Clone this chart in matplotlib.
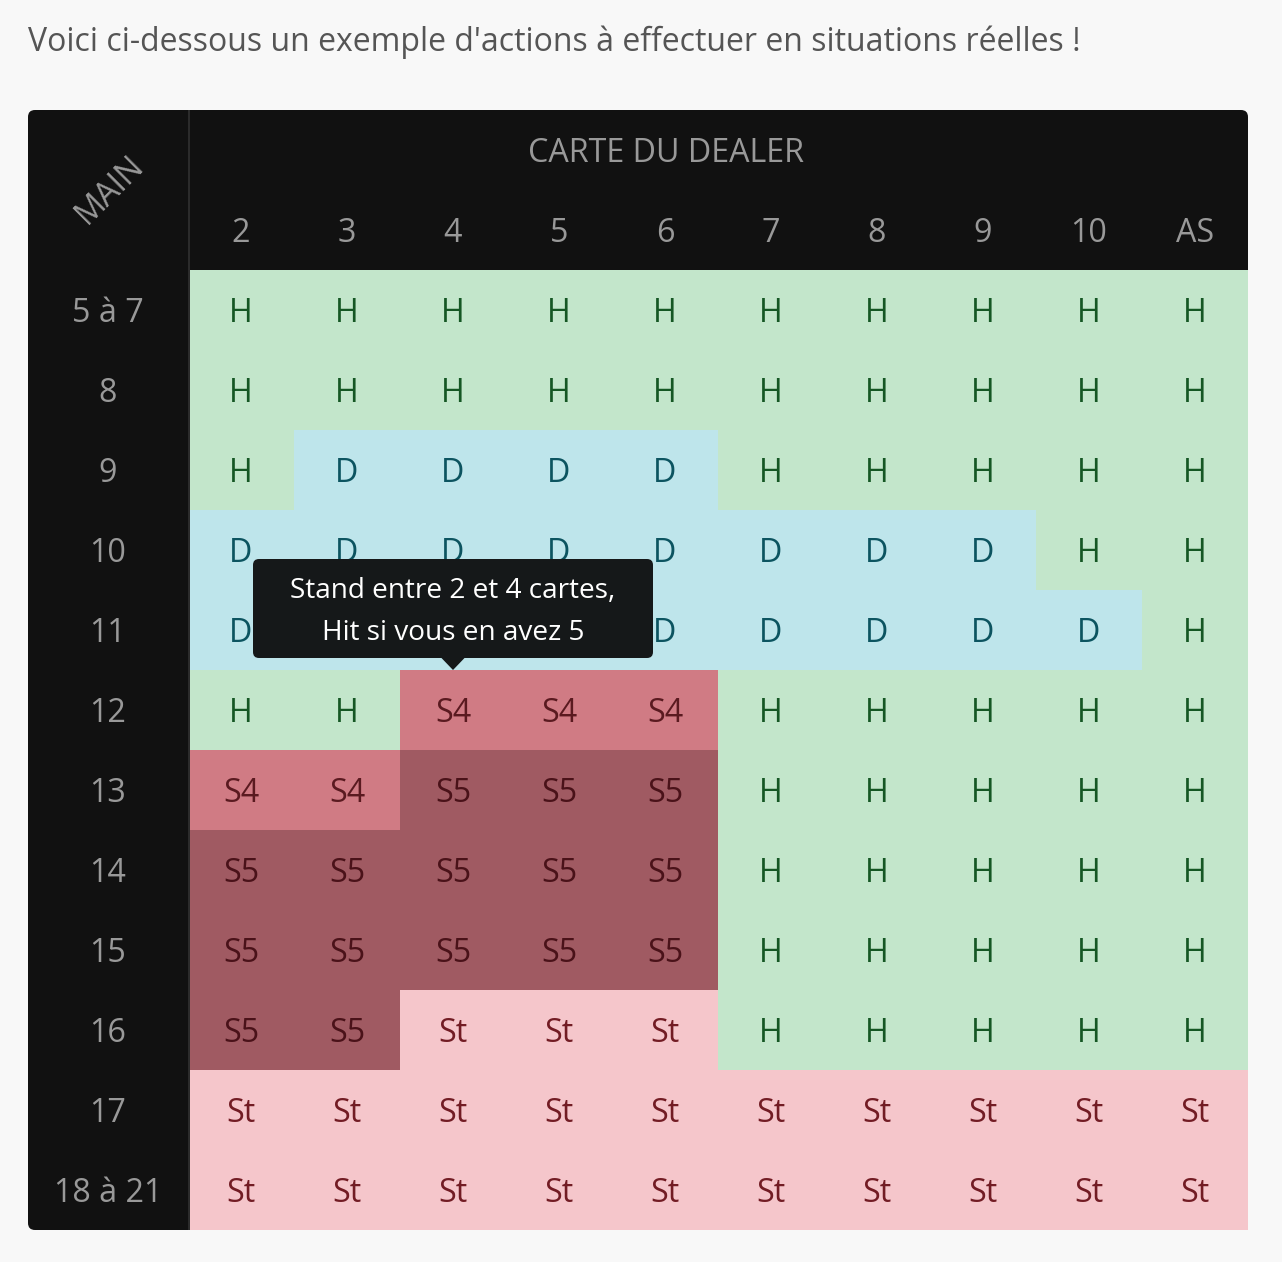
import matplotlib

matplotlib.use("Agg")
import matplotlib.pyplot as plt
import numpy as np
from matplotlib.colors import ListedColormap
from matplotlib.patches import FancyBboxPatch, Polygon, Rectangle

plt.rcParams["font.family"] = ["Open Sans", "DejaVu Sans"]

intro = "Voici ci-dessous un exemple d'actions à effectuer en situations réelles !"
dealer_title = "CARTE DU DEALER"
hand_title = "MAIN"
dealer_cards = ["2", "3", "4", "5", "6", "7", "8", "9", "10", "AS"]
hands = ["5 à 7", "8", "9", "10", "11", "12", "13", "14", "15", "16", "17", "18 à 21"]
actions = [
    ["H", "H", "H", "H", "H", "H", "H", "H", "H", "H"],
    ["H", "H", "H", "H", "H", "H", "H", "H", "H", "H"],
    ["H", "D", "D", "D", "D", "H", "H", "H", "H", "H"],
    ["D", "D", "D", "D", "D", "D", "D", "D", "H", "H"],
    ["D", "D", "D", "D", "D", "D", "D", "D", "D", "H"],
    ["H", "H", "S4", "S4", "S4", "H", "H", "H", "H", "H"],
    ["S4", "S4", "S5", "S5", "S5", "H", "H", "H", "H", "H"],
    ["S5", "S5", "S5", "S5", "S5", "H", "H", "H", "H", "H"],
    ["S5", "S5", "S5", "S5", "S5", "H", "H", "H", "H", "H"],
    ["S5", "S5", "St", "St", "St", "H", "H", "H", "H", "H"],
    ["St", "St", "St", "St", "St", "St", "St", "St", "St", "St"],
    ["St", "St", "St", "St", "St", "St", "St", "St", "St", "St"],
]
tooltip_lines = ["Stand entre 2 et 4 cartes,", "Hit si vous en avez 5"]
tooltip_row, tooltip_col = 5, 2

action_order = ["H", "D", "S4", "S5", "St"]
cell_colors = ["#c3e6cb", "#bee5eb", "#d07b84", "#a05a62", "#f5c6cb"]
text_colors = {"H": "#155724", "D": "#0c5460", "S4": "#5a1a20", "S5": "#4a1219", "St": "#721c24"}

W, H = 1282, 1262
fig = plt.figure(figsize=(W / 100, H / 100), dpi=100, facecolor="#f8f8f8")
ax = fig.add_axes([0, 0, 1, 1])
ax.axis("off")

# table geometry in pixels
left, right, top, bottom = 28, 1248, 110, 1230
side_w, head_h = 160, 160
grid_x0, grid_y0 = left + side_w, top + head_h
cw = (right - grid_x0) / len(dealer_cards)
rh = (bottom - grid_y0) / len(hands)
fs = 23.2
dy = 3  # text centre offset for Open Sans

ax.text(left, 42, intro, fontsize=23.0, color="#555555", va="center", ha="left")

ax.add_patch(FancyBboxPatch((left, top), right - left, bottom - top,
                            boxstyle="round,pad=0,rounding_size=7",
                            facecolor="#111111", edgecolor="none", zorder=1))

codes = np.array([[action_order.index(a) for a in row] for row in actions])
ax.imshow(codes, cmap=ListedColormap(cell_colors), vmin=-0.5, vmax=len(action_order) - 0.5,
          extent=(grid_x0, right, bottom, grid_y0), aspect="auto",
          interpolation="nearest", zorder=2)
ax.set_xlim(0, W)
ax.set_ylim(H, 0)
ax.add_patch(Rectangle((grid_x0, top), 2, bottom - top, facecolor="#2b2b2b",
                       edgecolor="none", zorder=2.5))

for i, row in enumerate(actions):
    for j, a in enumerate(row):
        ax.text(grid_x0 + (j + 0.5) * cw, grid_y0 + (i + 0.5) * rh + dy, a,
                fontsize=fs, color=text_colors[a], ha="center", va="center", zorder=3)

for j, card in enumerate(dealer_cards):
    ax.text(grid_x0 + (j + 0.5) * cw, 231 + dy, card, fontsize=fs, color="#999999",
            ha="center", va="center", zorder=3)
ax.text(666, 151 + dy, dealer_title, fontsize=fs, color="#999999",
        ha="center", va="center", zorder=3)

for i, hand in enumerate(hands):
    ax.text(108, grid_y0 + (i + 0.5) * rh + dy, hand, fontsize=fs,
            color="#999999", ha="center", va="center", zorder=3)
ax.text(110, 190, hand_title, fontsize=fs, color="#999999", rotation=45,
        ha="center", va="center", rotation_mode="anchor", zorder=3)

# tooltip above the hovered cell
tx = grid_x0 + (tooltip_col + 0.5) * cw
tip_y = grid_y0 + tooltip_row * rh
box_w, box_h = 400, 99
box_top = tip_y - 12 - box_h
ax.add_patch(FancyBboxPatch((tx - box_w / 2, box_top), box_w, box_h,
                            boxstyle="round,pad=0,rounding_size=6",
                            facecolor="#151819", edgecolor="none", zorder=4))
ax.add_patch(Polygon([(tx - 12, tip_y - 12.5), (tx + 12, tip_y - 12.5), (tx, tip_y)],
                     closed=True, facecolor="#151819", edgecolor="none", zorder=4))
for k, line in enumerate(tooltip_lines):
    ax.text(tx, box_top + 32 + k * 42, line, fontsize=20.2, color="white",
            ha="center", va="center", zorder=5)

fig.savefig("out.png", dpi=100, facecolor=fig.get_facecolor())
